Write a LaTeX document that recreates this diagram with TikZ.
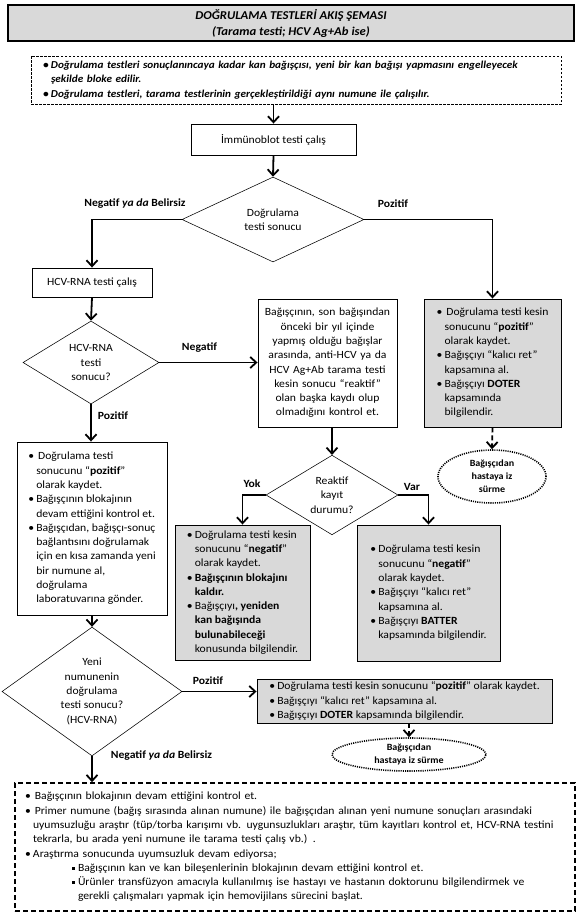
\documentclass[tikz,border=0pt]{standalone}
\usepackage{fontspec}
\setmainfont{Carlito}[FakeStretch=1.06]
\usetikzlibrary{shapes.geometric,arrows.meta,calc}
\definecolor{boxgray}{HTML}{D9D9D9}
\newcommand{\bu}{\makebox[8pt][l]{•}}
\newcommand{\hi}{\hspace*{8pt}}
\newcommand{\sqb}{\makebox[6pt][l]{\rule[1.8pt]{3pt}{3pt}}}
\tikzset{
  base/.style={font=\fontsize{11}{14.3}\selectfont},
  box/.style={base, draw, line width=0.9pt, inner ysep=0pt, align=left},
  gbox/.style={box, fill=boxgray},
  dia/.style={base, draw, diamond, line width=0.55pt, inner sep=0pt, align=center},
  arr/.style={line width=1.8pt, -{Straight Barb[length=6pt,width=11pt]}},
  darr/.style={arr, dash pattern=on 5pt off 3pt},
  ell/.style={draw, ellipse, line width=1.6pt, dash pattern=on 1.1pt off 1.1pt, inner sep=-8pt, align=center, font=\fontsize{9.5}{13}\selectfont\bfseries},
  lbl/.style={base, font=\fontsize{11}{13}\selectfont\bfseries, inner sep=0pt},
}
\begin{document}
\begin{tikzpicture}[x=1pt,y=-1pt]
\useasboundingbox (0,0) rectangle (577,913);

% title
\node[draw, line width=1.1pt, fill=boxgray, minimum width=566pt, minimum height=36pt, align=center,
      font=\fontsize{12}{16}\selectfont\bfseries\itshape] (title) at (291,23)
  {DOĞRULAMA TESTLERİ  AKIŞ ŞEMASI\\(Tarama testi; HCV Ag+Ab ise)};

% top note
\node[draw, line width=0.7pt, dash pattern=on 2.5pt off 1.5pt, align=left, inner xsep=12pt, inner ysep=0pt,
      text width=506pt, minimum height=48pt, font=\fontsize{10.6}{14.2}\selectfont\bfseries\itshape] (topnote) at (296,80)
  {\bu Doğrulama testleri sonuçlanıncaya  kadar kan bağışçısı, yeni bir kan bağışı yapmasını engelleyecek\\
   \hi şekilde bloke edilir.\\
   \bu Doğrulama testleri, tarama testlerinin gerçekleştirildiği aynı numune  ile çalışılır.};

\node[box, align=center, minimum width=165pt, minimum height=31pt] (imm) at (273.5,139.5) {İmmünoblot testi çalış};

\node[dia, minimum width=182pt, minimum height=85pt] (d1) at (273,219.5) {Doğrulama\\testi sonucu};

\node[box, align=center, minimum width=120pt, minimum height=29pt] (hcv) at (92,282.5) {HCV-RNA  testi çalış};

\node[dia, minimum width=136pt, minimum height=83pt] (d2) at (91,362.5) {HCV-RNA\\testi\\sonucu?};

\node[box, align=center, text width=135pt, inner xsep=2pt, minimum height=128pt] (mid) at (327.5,363)
  {Bağışçının, son bağışından\\önceki bir yıl içinde\\yapmış olduğu bağışlar\\arasında, anti-HCV  ya da\\HCV Ag+Ab tarama testi\\kesin sonucu  “reaktif”\\olan başka kaydı  olup\\olmadığını kontrol et.};

\node[gbox, minimum width=137pt, minimum height=128pt] (gpos) at (492.5,363)
  {\bu\,Doğrulama testi kesin\\
   \hi sonucunu “\textbf{pozitif}”\\
   \hi olarak kaydet.\\
   \bu Bağışçıyı “kalıcı ret”\\
   \hi kapsamına al.\\
   \bu Bağışçıyı \textbf{DOTER}\\
   \hi kapsamında\\
   \hi bilgilendir.};

\node[ell, minimum width=108pt, minimum height=53pt] (e1) at (492,476.5) {Bağışçıdan\\hastaya iz\\sürme};

\node[box, minimum width=150pt, minimum height=173pt] (left) at (92,528.5)
  {\bu\,Doğrulama testi\\
   \hi sonucunu “\textbf{pozitif}”\\
   \hi olarak kaydet.\\
   \bu Bağışçının blokajının\\
   \hi devam ettiğini kontrol  et.\\
   \bu Bağışçıdan, bağışçı-sonuç\\
   \hi bağlantısını doğrulamak\\
   \hi için en kısa zamanda yeni\\
   \hi bir numune  al,\\
   \hi doğrulama\\
   \hi laboratuvarına gönder.};

\node[dia, minimum width=132pt, minimum height=76pt] (d3) at (332,495) {Reaktif\\kayıt\\durumu?};

\node[gbox, minimum width=135pt, minimum height=135pt] (yok) at (242.5,592.5)
  {\bu Doğrulama testi kesin\\
   \hi sonucunu “\textbf{negatif}”\\
   \hi olarak kaydet.\\
   \bu \textbf{Bağışçının blokajını}\\
   \hi \textbf{kaldır.}\\
   \bu Bağışçıyı\textbf{, yeniden}\\
   \hi \textbf{kan bağışında}\\
   \hi \textbf{bulunabileceği}\\
   \hi konusunda bilgilendir.};

\node[gbox, minimum width=143pt, minimum height=136pt] (var) at (428.5,593)
  {\bu Doğrulama testi kesin\\
   \hi sonucunu “\textbf{negatif}”\\
   \hi olarak kaydet.\\
   \bu Bağışçıyı “kalıcı ret”\\
   \hi kapsamına al.\\
   \bu Bağışçıyı \textbf{BATTER}\\
   \hi kapsamında bilgilendir.};

\node[dia, minimum width=180pt, minimum height=105pt] (d4) at (92,691.5) {Yeni\\numunenin\\doğrulama\\testi sonucu?\\(HCV-RNA)};

\node[gbox, minimum width=295pt, minimum height=44pt] (pbox) at (404.5,701)
  {\bu Doğrulama testi kesin sonucunu  “\textbf{pozitif}” olarak kaydet.\\
   \bu Bağışçıyı “kalıcı ret” kapsamına al.\\
   \bu Bağışçıyı \textbf{DOTER} kapsamında bilgilendir.};

\node[ell, minimum width=154pt, minimum height=33pt] (e2) at (409,754.5) {Bağışçıdan\\hastaya  iz sürme};

\node[base, draw, line width=1.6pt, dash pattern=on 5pt off 3pt, align=left, inner xsep=10pt, inner ysep=0pt,
      text width=540pt, minimum height=128pt] (bottom) at (295,847)
  {\bu\,Bağışçının blokajının devam ettiğini kontrol  et.\\
   \bu\,Primer numune  (bağış sırasında alınan numune) ile bağışçıdan alınan yeni numune  sonuçları arasındaki\\
   \hi uyumsuzluğu araştır (tüp/torba karışımı vb.  uygunsuzlukları araştır, tüm kayıtları kontrol  et,  HCV-RNA testini\\
   \hi tekrarla, bu arada yeni numune  ile tarama testi çalış vb.) .\\
   \bu Araştırma sonucunda uyumsuzluk  devam  ediyorsa;\\
   \hspace*{47pt}\sqb Bağışçının kan ve kan bileşenlerinin blokajının devam ettiğini kontrol et.\\
   \hspace*{47pt}\sqb Ürünler transfüzyon amacıyla kullanılmış ise  hastayı ve hastanın doktorunu  bilgilendirmek ve\\
   \hspace*{53pt}gerekli çalışmaları yapmak için hemovijilans sürecini  başlat.};

% labels
\node[lbl] (l1) at (135,204) {Negatif \textit{ya da} Belirsiz};
\node[lbl] (l2) at (393,204) {Pozitif};
\node[lbl] (l3) at (199.5,348) {Negatif};
\node[lbl] (l4) at (113,416) {Pozitif};
\node[lbl] (l5) at (252,484) {Yok};
\node[lbl] (l6) at (412,487) {Var};
\node[lbl] (l7) at (208,681) {Pozitif};
\node[lbl] (l8) at (161.5,756) {Negatif \textit{ya da} Belirsiz};

% connectors
\draw[arr] (imm.north |- topnote.south) -- (imm.north);
\draw[arr] (imm.south) -- (d1.north);
\draw[arr] (d1.west) -| (hcv.north);
\draw[arr] (d1.east) -| (gpos.north);
\draw[arr] (hcv.south) -- (d2.north);
\draw[arr] (d2.east) -- (d2.east -| mid.west);
\draw[arr] (d2.south) -- (d2.south |- left.north);
\draw[arr] (d3.north |- mid.south) -- (d3.north);
\draw[arr] (d3.west) -| (yok.north);
\draw[arr] (d3.east) -| (var.north);
\draw[darr] (gpos.south) -- (e1.north);
\draw[arr] (left.south) -- (d4.north);
\draw[arr] (d4.east) -- (d4.east -| pbox.west);
\draw[darr] (e2.north |- pbox.south) -- (e2.north);
\draw[arr] (d4.south) -- (d4.south |- bottom.north);
\end{tikzpicture}
\end{document}
